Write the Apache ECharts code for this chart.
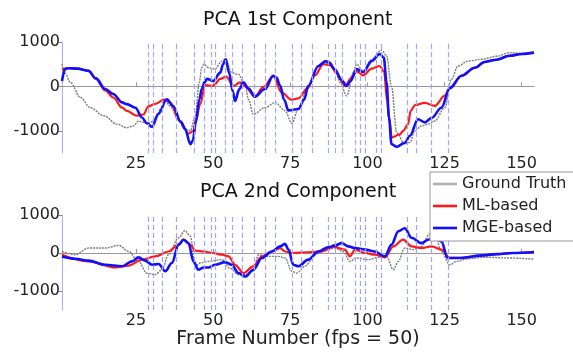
<!DOCTYPE html>
<html>
<head>
<meta charset="utf-8">
<script src="https://cdn.jsdelivr.net/npm/echarts@6/dist/echarts.min.js"></script>
<style>
html,body{margin:0;padding:0;background:#fff;}
#chart{width:573px;height:354px;}
</style>
</head>
<body>
<div id="chart"></div>
<script>
// ---------- DATA ----------
var xTicks = [25, 50, 75, 100, 125, 150];
var yTicks = [-1000, 0, 1000];
var eventFrames = [28.9,30.7,33.6,38,43.9,47.2,49.4,50.7,53.9,56.1,59.3,63.3,66.8,70.2,75.7,78.5,82.1,87.3,89.5,91.7,95.9,97.6,99.2,103,104.6,113,115.7,120.8,126.1];
var phoneFrames = [25.3,29.4,33.8,39.9,44.8,53,63.6,67.4,72.2,77.8,83,89.8,98,105,115.4,122.8];
var phoneTexts  = ['l','i','r/k','aw','l','p/k dh aw','ih','t','aw','k sh','s','y ih t','l dh s','r ay','n ih','ng i'];

var top_truth = [[1,500],[2,300],[3.7,90],[7,-250],[10.2,-480],[14.5,-660],[18.8,-850],[22,-930],[24.2,-890],[25.8,-780],[27.4,-810],[28.5,-830],[31.2,-775],[33,-500],[34.5,-325],[36,-440],[38.8,-775],[40.9,-960],[42.6,-1000],[44.2,-660],[45.5,90],[46.3,420],[47,500],[48.5,420],[50.6,390],[52.8,570],[53.9,610],[56,310],[58.2,270],[60.4,10],[61.5,-300],[63,-630],[66.8,-480],[70.1,-360],[73.3,-550],[75.5,-830],[77.6,-510],[80.8,10],[84.1,460],[86.2,550],[89.5,390],[91.1,90],[93.3,-210],[95.4,310],[96.5,500],[98.6,350],[101.4,610],[104.6,820],[106.2,690],[107.8,10],[109.5,-1040],[112.1,-1300],[113.8,-1260],[115.4,-1000],[117.5,-890],[119.7,-850],[121.8,-780],[125.1,-480],[127.2,160],[129.4,460],[132.6,570],[137,610],[142,680],[146,760],[150,740]];
var top_ml = [[1,380],[3,410],[6,400],[9.6,350],[12,170],[15,-90],[17.6,-250],[20.5,-480],[22,-550],[25.3,-660],[27.4,-630],[29,-450],[31,-400],[34.2,-300],[36,-360],[39.3,-780],[42,-1065],[43.6,-1000],[44.4,-750],[45.8,-400],[47.4,30],[50,10],[52.3,170],[54.2,220],[56.6,10],[58.7,90],[60.3,0],[63.5,-230],[66.3,-10],[69.5,230],[72.2,-140],[75.5,-300],[77.6,-270],[80.5,-50],[83,250],[85.7,500],[87.9,480],[90,300],[92.7,10],[94.9,200],[96.5,340],[98.6,250],[101.4,400],[104,460],[105.4,330],[106.4,-330],[107.2,-800],[107.9,-1150],[110.5,-1080],[111.6,-1000],[113.2,-850],[114,-550],[115.4,-420],[118.6,-370],[121.8,-440],[125.1,-210],[126.7,-30],[130.5,240],[134.8,420],[138,550],[141.8,600],[146,690],[150,730],[154,760]];
var top_mge = [[1,120],[2,390],[3,410],[6,400],[9.6,350],[12,180],[15,-60],[17.6,-170],[20.5,-360],[22,-400],[24.8,-480],[26.9,-700],[28.5,-830],[30.2,-910],[32.2,-620],[35,-290],[37,-440],[39.5,-800],[40.9,-960],[42.6,-1300],[43.4,-1220],[44.4,-800],[45.5,-300],[46.3,-60],[47.2,90],[48,170],[50,120],[52.3,310],[53.2,500],[54.1,610],[55.2,300],[56.3,-100],[57.1,-330],[58.5,-60],[59.8,90],[61.5,-50],[63.5,-230],[66.8,-60],[69.5,240],[70.5,200],[71.7,20],[73,-300],[74.4,-540],[77.6,-510],[79.5,-300],[80.8,10],[84.1,460],[86.5,570],[87.5,540],[89.5,380],[91.5,150],[93.3,10],[94.5,120],[96.5,390],[98.6,320],[101.4,570],[104,730],[105.3,650],[106.2,100],[107,-700],[107.8,-1300],[109.5,-1360],[112.1,-1270],[113.8,-1110],[116.4,-740],[118.6,-810],[120.8,-710],[124,-480],[126.7,-40],[130.5,240],[134.8,420],[138,550],[141.8,600],[146,690],[150,730],[154,760]];

var bot_truth = [[1,40],[5.3,-45],[9.6,130],[15,130],[19.4,200],[22.6,40],[25.8,-220],[28.5,-530],[31.2,-570],[33.4,-440],[35.5,-45],[38.8,400],[40.9,590],[42.6,440],[44.2,-350],[45.8,-265],[48.5,-220],[52.8,-175],[55.5,-400],[58.2,-570],[60.4,-570],[63,-480],[64.7,-45],[67.4,-90],[71.1,-90],[73.3,-130],[75.5,-480],[77.1,-530],[79.8,-350],[83,-45],[86.2,60],[89.5,130],[92.2,40],[94.3,-220],[96.5,-130],[100.3,-175],[103.5,-115],[106.2,-90],[108.4,-440],[110,-220],[112.1,130],[114.8,90],[117.5,175],[120.2,500],[122,450],[124,40],[126.7,-310],[128.9,-220],[132.6,-150],[138,-110],[145,-130],[154,-160]];
var bot_ml = [[1,-45],[9.6,-220],[18.3,-380],[22.6,-330],[26.9,-175],[31.2,-90],[35.5,40],[38.8,220],[40.4,350],[42.6,220],[44.2,60],[46.9,40],[50,0],[52.8,-45],[55,-90],[57.1,-310],[59.8,-530],[63,-350],[65.8,-90],[69,40],[71.7,130],[73.3,40],[75.5,0],[80.8,20],[85.2,40],[88.4,150],[89.5,170],[91,120],[92.7,90],[94.3,-90],[96,90],[99.2,0],[102.4,-45],[105.7,-115],[108.4,175],[111.6,350],[114.3,175],[117.5,130],[120.8,175],[124,90],[126.7,-130],[130.5,-130],[136.4,-70],[142,-30],[147,0],[154,25]];
var bot_mge = [[1,-90],[5.3,-150],[9.6,-200],[15,-310],[20.5,-350],[23.7,-220],[25.8,-115],[28,-200],[30.2,-310],[32.3,-290],[34.5,-480],[36.6,-265],[38.8,220],[40.4,350],[42,260],[43.6,-220],[45.2,-440],[46.9,-380],[48.5,-380],[50.6,-310],[53.9,-240],[56,-310],[58.2,-530],[60.4,-620],[63,-440],[65.8,-130],[69,40],[71.7,175],[73.3,240],[74.4,90],[76,-310],[77.6,-350],[80.8,-175],[84.1,40],[87.3,150],[89.5,200],[91.7,260],[93.8,175],[96,130],[99.2,90],[102.4,40],[105.7,-90],[107.8,220],[110,570],[112.1,650],[114.3,400],[117.5,260],[119.7,350],[121.8,440],[124,300],[126,-130],[130.5,-130],[136.4,-70],[142,-30],[147,0],[154,25]];

// ---------- CHART ----------
var FONT = 'DejaVu Sans';
var chart = echarts.init(document.getElementById('chart'), null, {renderer: 'canvas'});

function plainNum(v) { return String(v); }
function xAxisCfg(gridIndex, withName) {
  var a = {
    type: 'value', gridIndex: gridIndex, min: 1, max: 154,
    axisLine: {show: true, lineStyle: {color: '#999', width: 1}},
    axisTick: {show: true, inside: true, length: 4, customValues: xTicks, lineStyle: {color: '#999'}},
    axisLabel: {customValues: xTicks, formatter: plainNum, margin: 3, fontFamily: FONT, fontSize: 16, color: '#222'},
    splitLine: {show: false}
  };
  if (withName) {
    a.name = 'Frame Number (fps = 50)';
    a.nameLocation = 'middle';
    a.nameGap = 20;
    a.nameTextStyle = {fontFamily: FONT, fontSize: 19, color: '#222'};
  }
  return a;
}
function yAxisCfg(gridIndex) {
  return {
    type: 'value', gridIndex: gridIndex, min: -1500, max: 1000,
    axisLine: {show: true, lineStyle: {color: '#b4b4ea', width: 1.2}},
    axisTick: {show: true, inside: false, length: 3, customValues: yTicks, lineStyle: {color: '#888'}},
    axisLabel: {customValues: yTicks, formatter: plainNum, margin: 2, fontFamily: FONT, fontSize: 16, color: '#222'},
    splitLine: {show: false}
  };
}
var eventLines = {
  silent: true, symbol: ['none', 'none'], animation: false,
  label: {show: false},
  lineStyle: {color: '#a4a4f5', type: [5, 3], width: 1.2},
  data: eventFrames.map(function (f) { return {xAxis: f}; })
};
function phoneSeries(xi, yi) {
  return {
    type: 'scatter', xAxisIndex: xi, yAxisIndex: yi, silent: true,
    symbolSize: 1, itemStyle: {opacity: 0},
    label: {show: true, position: 'inside', fontSize: 6, color: '#999', fontFamily: FONT,
      formatter: function (p) { return p.data[2]; }},
    data: phoneFrames.map(function (f, i) { return [f, -1420, phoneTexts[i]]; })
  };
}
function lineSeries(name, data, xi, color, width, type, withMarks) {
  var s = {
    name: name, type: 'line', xAxisIndex: xi, yAxisIndex: xi, data: data,
    showSymbol: false, symbol: 'none', smooth: 0.35, smoothMonotone: 'x',
    lineStyle: {color: color, width: width, type: type || 'solid'},
    itemStyle: {color: color}
  };
  if (withMarks) s.markLine = eventLines;
  return s;
}

chart.setOption({
  animation: false,
  backgroundColor: '#fff',
  graphic: [
    {type: 'text', left: 298 - 95, top: 11, style: {text: 'PCA 1st Component', font: '19px "DejaVu Sans"', fill: '#111'}},
    {type: 'text', left: 298 - 98, top: 183, style: {text: 'PCA 2nd Component', font: '19px "DejaVu Sans"', fill: '#111'}}
  ],
  grid: [
    {left: 62, right: 39, top: 42, height: 111},
    {left: 62, right: 39, top: 215, height: 95}
  ],
  xAxis: [xAxisCfg(0, false), xAxisCfg(1, true)],
  yAxis: [yAxisCfg(0), yAxisCfg(1)],
  legend: {
    orient: 'vertical', left: 430, top: 172,
    padding: [4, 12, 5, 3], itemWidth: 24, itemHeight: 2.6, itemGap: 6,
    icon: 'rect',
    backgroundColor: '#fff', borderColor: '#999', borderWidth: 1,
    textStyle: {fontFamily: FONT, fontSize: 16, color: '#222', lineHeight: 16, height: 16},
    data: [
      {name: 'Ground Truth', itemStyle: {color: '#b0b0b0'}},
      {name: 'ML-based'},
      {name: 'MGE-based'}
    ],
    z: 20
  },
  series: [
    lineSeries('Ground Truth', top_truth, 0, '#7c7c7c', 1.4, [2, 1], true),
    lineSeries('ML-based', top_ml, 0, '#ff1a1a', 2.2),
    lineSeries('MGE-based', top_mge, 0, '#1010ff', 2.6),
    phoneSeries(0, 0),
    lineSeries('Ground Truth', bot_truth, 1, '#7c7c7c', 1.4, [2, 1], true),
    lineSeries('ML-based', bot_ml, 1, '#ff1a1a', 2.2),
    lineSeries('MGE-based', bot_mge, 1, '#1010ff', 2.6),
    phoneSeries(1, 1)
  ]
});
</script>
</body>
</html>
